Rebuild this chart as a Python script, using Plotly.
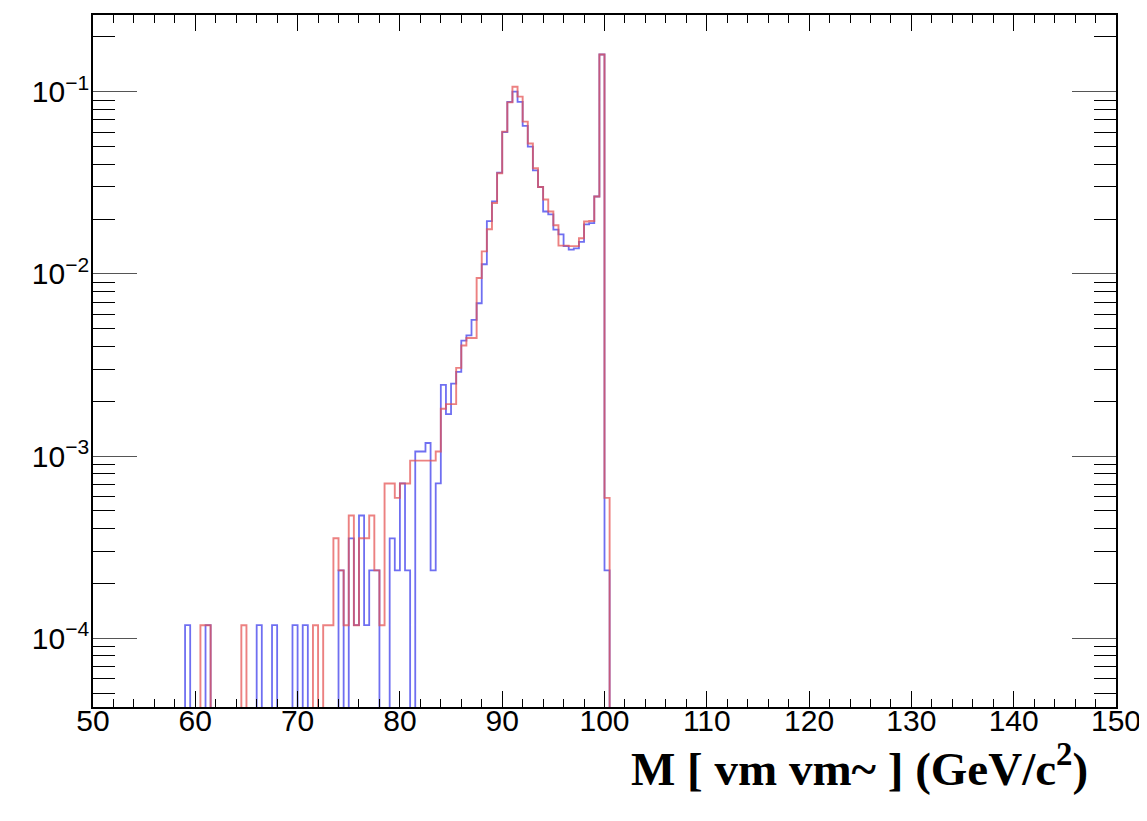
import numpy as np
import plotly.graph_objects as go

# ---- data (bin width 0.5 GeV, first bin starts at 58.0) ----
bin_start = 58.0
bin_width = 0.5

blue_vals = [
    0, 0, 1.18e-4, 0, 0, 0, 1.18e-4, 0, 0, 0,            # 58.0 - 62.5
    0, 0, 0, 0, 0, 0, 1.18e-4, 0, 0, 1.18e-4,            # 63.0 - 67.5
    0, 0, 0, 1.18e-4, 0, 1.18e-4, 0, 0, 0, 0,            # 68.0 - 72.5
    0, 0, 2.36e-4, 0, 3.54e-4, 1.18e-4, 4.72e-4, 1.18e-4, 2.36e-4, 2.36e-4,  # 73.0 - 77.5
    0, 0, 3.54e-4, 2.36e-4, 7.08e-4, 2.36e-4, 0, 1.06e-3, 1.06e-3, 1.18e-3,  # 78.0 - 82.5
    2.36e-4, 7.08e-4, 2.46e-3, 1.70e-3, 2.50e-3, 2.90e-3, 4.30e-3, 4.60e-3, 5.60e-3, 6.90e-3,  # 83.0 - 87.5
    1.13e-2, 1.95e-2, 2.50e-2, 3.60e-2, 6.00e-2, 8.80e-2, 1.00e-1, 8.80e-2, 6.50e-2, 5.00e-2,  # 88.0 - 92.5
    3.70e-2, 3.00e-2, 2.20e-2, 2.12e-2, 1.75e-2, 1.65e-2, 1.42e-2, 1.36e-2, 1.38e-2, 1.50e-2,  # 93.0 - 97.5
    1.87e-2, 1.90e-2, 2.66e-2, 1.60e-1, 2.36e-4,           # 98.0 - 100.0
]

red_vals = [
    0, 0, 0, 0, 0, 1.18e-4, 1.18e-4, 0, 0, 0,            # 58.0 - 62.5
    0, 0, 0, 1.18e-4, 0, 0, 0, 0, 0, 0,                  # 63.0 - 67.5
    0, 0, 0, 0, 0, 0, 0, 1.18e-4, 0, 1.18e-4,            # 68.0 - 72.5
    1.18e-4, 3.54e-4, 2.36e-4, 1.18e-4, 4.72e-4, 1.18e-4, 3.54e-4, 3.54e-4, 4.72e-4, 2.36e-4,  # 73.0 - 77.5
    1.18e-4, 7.08e-4, 7.08e-4, 5.90e-4, 7.08e-4, 7.08e-4, 9.44e-4, 9.44e-4, 9.44e-4, 9.44e-4,  # 78.0 - 82.5
    9.44e-4, 1.06e-3, 1.82e-3, 1.93e-3, 1.93e-3, 3.05e-3, 4.05e-3, 4.45e-3, 4.45e-3, 9.50e-3,  # 83.0 - 87.5
    1.33e-2, 1.76e-2, 2.45e-2, 3.57e-2, 6.04e-2, 8.74e-2, 1.065e-1, 9.40e-2, 6.85e-2, 5.20e-2,  # 88.0 - 92.5
    3.80e-2, 3.00e-2, 2.56e-2, 2.20e-2, 1.85e-2, 1.43e-2, 1.43e-2, 1.42e-2, 1.42e-2, 1.57e-2,  # 93.0 - 97.5
    1.94e-2, 1.95e-2, 2.66e-2, 1.60e-1, 5.90e-4,           # 98.0 - 100.0
]

x_tick_vals = [50, 60, 70, 80, 90, 100, 110, 120, 130, 140, 150]
y_tick_vals = [1e-4, 1e-3, 1e-2, 1e-1]
y_tick_text = ["10<sup>−4</sup>", "10<sup>−3</sup>", "10<sup>−2</sup>", "10<sup>−1</sup>"]
x_title = "<b>M [ vm vm~ ] (GeV/c<sup>2</sup>)</b>"

FLOOR = 1e-7  # below axis range: where bins are empty the line drops out of view


def step_xy(vals):
    n = len(vals)
    edges = bin_start + bin_width * np.arange(n + 1)
    ys = [v if v > 0 else FLOOR for v in vals]
    x = [edges[0]] + list(edges[:-1]) + [edges[-1]]
    y = [FLOOR] + ys + [FLOOR]
    return x, y


fig = go.Figure()
bx, by = step_xy(blue_vals)
rx, ry = step_xy(red_vals)
fig.add_trace(go.Scatter(x=bx, y=by, mode="lines", line=dict(shape="hv", color="rgba(50,50,235,0.7)", width=1.8),
                         showlegend=False, hoverinfo="skip"))
fig.add_trace(go.Scatter(x=rx, y=ry, mode="lines", line=dict(shape="hv", color="rgba(228,80,80,0.72)", width=1.9),
                         showlegend=False, hoverinfo="skip"))

minor_y = [k * 10.0 ** d for d in range(-5, 0) for k in range(2, 10)]

fig.update_layout(
    width=1147, height=821,
    margin=dict(l=85, r=39, t=5, b=122),
    paper_bgcolor="white", plot_bgcolor="white",
    font=dict(family="Liberation Sans, Arial, sans-serif", color="black"),
    xaxis=dict(
        range=[50, 150], tickmode="array", tickvals=x_tick_vals,
        ticks="inside", ticklen=16, tickwidth=1.4, tickcolor="black",
        minor=dict(dtick=2, tick0=50, ticks="inside", ticklen=8, tickwidth=1.2, tickcolor="black", showgrid=False),
        showline=True, linecolor="black", linewidth=1.6, mirror="ticks",
        showgrid=False, zeroline=False, ticklabelstandoff=-14,
        tickfont=dict(size=30, family="Liberation Sans, Arial, sans-serif"),
    ),
    yaxis=dict(
        type="log", range=[-4.377, -0.579], tickmode="array",
        tickvals=y_tick_vals, ticktext=y_tick_text,
        ticks="inside", ticklen=44, tickwidth=1.2, tickcolor="#555",
        minor=dict(tickvals=minor_y, ticks="inside", ticklen=22, tickwidth=1.4, tickcolor="black", showgrid=False),
        showline=True, linecolor="black", linewidth=1.6, mirror="ticks",
        showgrid=False, zeroline=False, ticklabelstandoff=-4,
        tickfont=dict(size=30, family="Liberation Sans, Arial, sans-serif"),
    ),
    annotations=[dict(
        text=x_title, xref="paper", yref="paper", x=0.9746, y=-0.085,
        xanchor="right", yanchor="middle", showarrow=False,
        font=dict(family="Liberation Serif, Times New Roman, serif", size=47, color="black"),
    )],
)

fig.write_html("out.html")
